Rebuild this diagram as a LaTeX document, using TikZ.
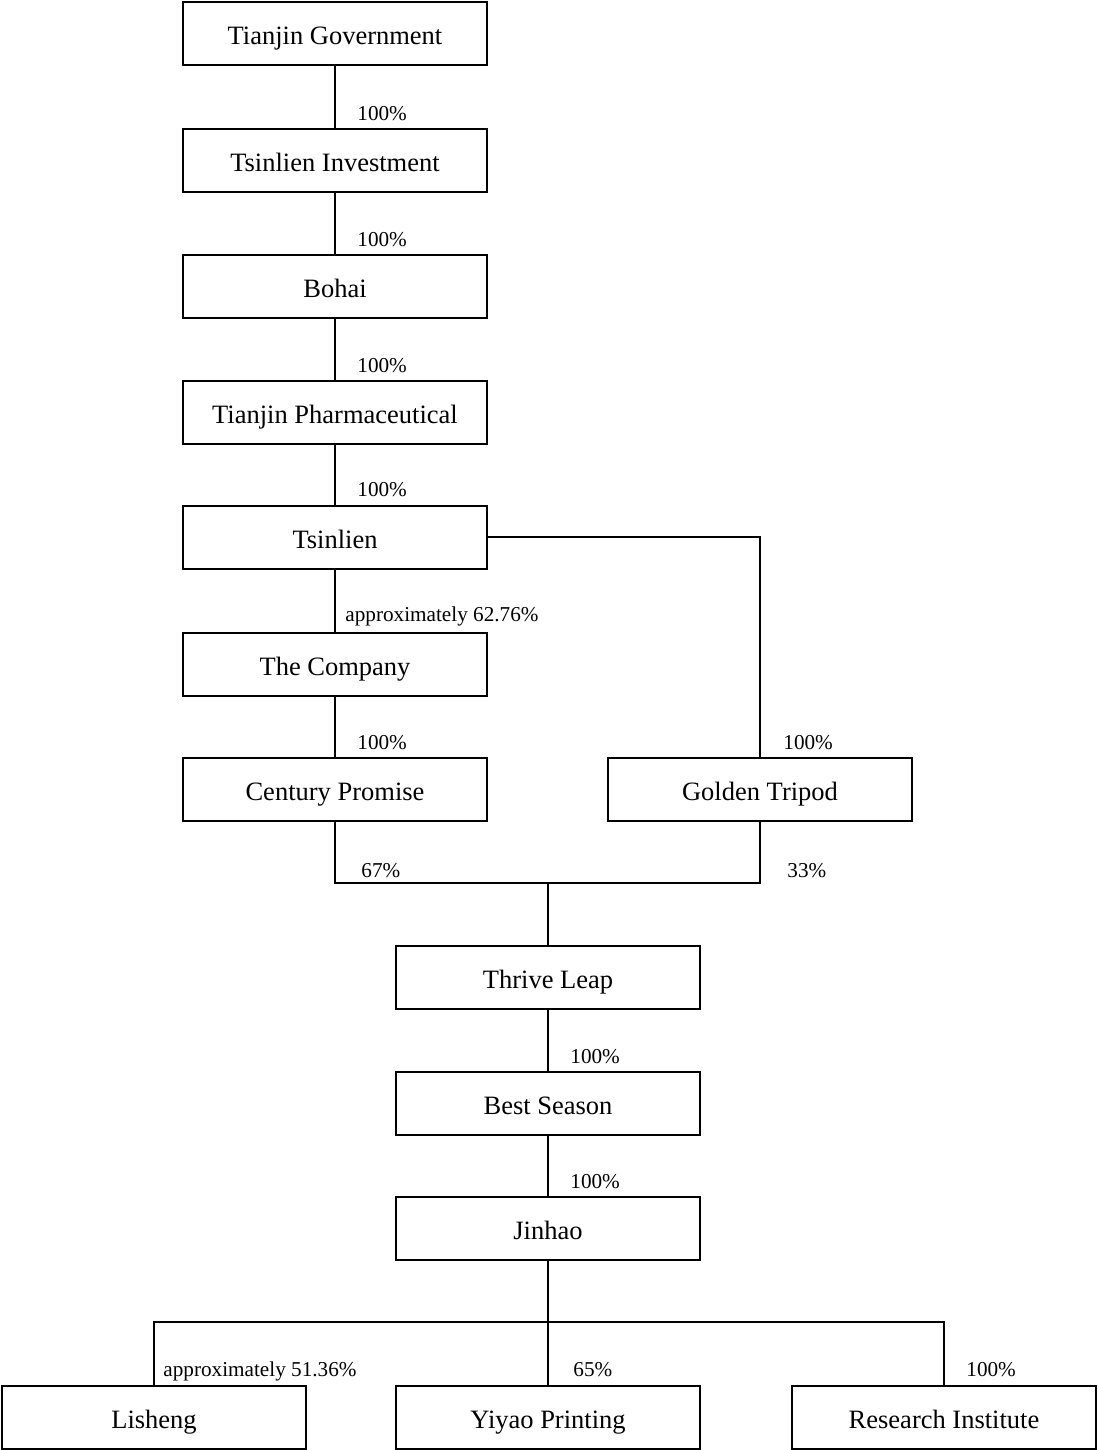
\documentclass[tikz,border=0pt]{standalone}
\usepackage{fontspec}
\setmainfont{Liberation Serif}
\usetikzlibrary{positioning}

\begin{document}
\begin{tikzpicture}[x=0.5pt,y=-0.5pt]
  \tikzstyle{block} = [rectangle, draw, line width=1pt, text centered,
  minimum height=31.5pt, minimum width=152pt, inner sep=0pt,
  text height=11pt, text depth=0pt, font=\fontsize{13.25}{15}\selectfont]
  \tikzstyle{pct} = [anchor=base west, inner sep=0pt, font=\fontsize{10.6}{12}\selectfont]
  \tikzstyle{line} = [line width=1pt, draw]
\useasboundingbox (0,0) rectangle (1097,1450);
% ownership chain
\node [block] (gov) at (335,34) {Tianjin Government};
\node [block] (inv) at (335,160.5) {Tsinlien Investment};
\node [block] (bohai) at (335,286.5) {Bohai};
\node [block] (pharma) at (335,412.5) {Tianjin Pharmaceutical};
\node [block] (tsinlien) at (335,537) {Tsinlien};
\node [block] (company) at (335,664) {The Company};
\node [block] (century) at (335,789.5) {Century Promise};
\node [block] (golden) at (760,789.5) {Golden Tripod};
\node [block] (thrive) at (548,977.5) {Thrive Leap};
\node [block] (best) at (548,1103.5) {Best Season};
\node [block] (jinhao) at (548,1228.5) {Jinhao};
\node [block] (lisheng) at (154,1417) {Lisheng};
\node [block] (yiyao) at (548,1417) {Yiyao Printing};
\node [block] (research) at (944,1417) {Research Institute};
\coordinate (j1) at (548,883);
\coordinate (j2) at (548,1322);
% percentages
\node [pct] (p1) at (357,120) {100\%};
\node [pct] (p2) at (357,246) {100\%};
\node [pct] (p3) at (357,372) {100\%};
\node [pct] (p4) at (357,496) {100\%};
\node [pct] (p5) at (345,621) {approximately 62.76\%};
\node [pct] (p6) at (357,749) {100\%};
\node [pct] (p7) at (783,749) {100\%};
\node [pct] (p8) at (361,877) {67\%};
\node [pct] (p9) at (787,877) {33\%};
\node [pct] (p10) at (570,1063) {100\%};
\node [pct] (p11) at (570,1188) {100\%};
\node [pct] (p12) at (163,1376) {approximately 51.36\%};
\node [pct] (p13) at (573,1376) {65\%};
\node [pct] (p14) at (966,1376) {100\%};
\path [line] (gov) -- (inv);
\path [line] (inv) -- (bohai);
\path [line] (bohai) -- (pharma);
\path [line] (pharma) -- (tsinlien);
\path [line] (tsinlien) -- (company);
\path [line] (company) -- (century);
\path [line] (tsinlien.east) -| (golden.north);
\path [line] (century.south) |- (j1);
\path [line] (golden.south) |- (j1);
\path [line] (j1) -- (thrive);
\path [line] (thrive) -- (best);
\path [line] (best) -- (jinhao);
\path [line] (jinhao) -- (yiyao);
\path [line] (j2) -| (lisheng.north);
\path [line] (j2) -| (research.north);
\end{tikzpicture}
\end{document}
